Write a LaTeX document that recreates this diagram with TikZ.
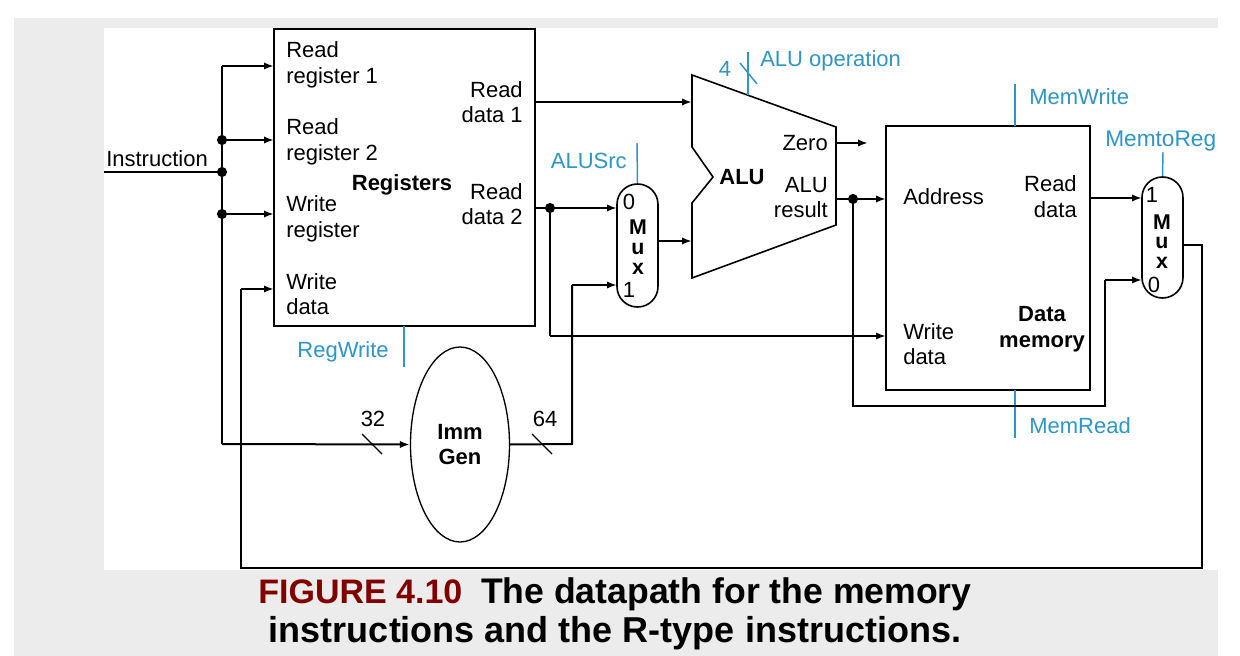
\documentclass[tikz,border=0pt]{standalone}
\usepackage{fontspec}
\setmainfont{Liberation Sans}
\usetikzlibrary{arrows.meta,shapes.geometric}
\definecolor{ctl}{RGB}{45,150,200}
\definecolor{capred}{RGB}{128,0,0}
\definecolor{bggray}{RGB}{236,236,236}
\begin{document}
\begin{tikzpicture}[x=0.75pt,y=-0.75pt,
  wire/.style={line width=1.5pt},
  arr/.style={wire,-{Latex[length=7.5pt,width=5.5pt]}},
  ctlw/.style={draw=ctl,line width=1.1pt},
  lbl/.style={inner sep=0pt,font=\fontsize{16.5}{19}\selectfont},
  blbl/.style={inner sep=0pt,font=\fontsize{16.5}{19}\selectfont\bfseries},
  ctllbl/.style={lbl,text=ctl},
  blk/.style={draw,line width=1.2pt,inner sep=0pt},
  muxbox/.style={blk,rectangle,rounded corners=15.3pt,minimum width=30.75pt},
]
\useasboundingbox (0,0) rectangle (1240,656);
\fill[white] (0,0) rectangle (1240,656);
\fill[bggray] (14,18) rectangle (1218,656);
\fill[white] (104,28) rectangle (1218,570);

% ---- blocks
\node[blk,minimum width=195.75pt,minimum height=222.75pt] (regs) at (404.5,177.5) {};
\node[blk,minimum width=153pt,minimum height=198pt] (mem) at (988,258) {};
\node[muxbox,minimum height=92.25pt] (mux1) at (637.5,245.5) {};
\node[muxbox,minimum height=90.75pt] (mux2) at (1162.5,237.5) {};
\node[blk,ellipse,line width=1pt,minimum width=74.25pt,minimum height=146.25pt] (imm) at (460,444.5) {};
\draw[blk] (692,75) -- (836,127) -- (836,225) -- (692,278) -- (692,203) -- (713,177) -- (692,147) -- cycle;
\coordinate (alu) at (764,177);

% ---- register file labels
\node[lbl,anchor=west,align=left] (rr1) at (286,64.8) {Read\\register 1};
\node[lbl,anchor=west,align=left] (rr2) at (286,141.8) {Read\\register 2};
\node[lbl,anchor=west,align=left] (wreg) at (286,218.8) {Write\\register};
\node[lbl,anchor=west,align=left] (wdat) at (286,294) {Write\\data};
\node[lbl,anchor=east,align=right] (rdd1) at (523,102) {Read\\data 1};
\node[lbl,anchor=east,align=right] (rdd2) at (523,204) {Read\\data 2};
\node[blbl,anchor=base] (regname) at (402,191) {Registers};

% ---- memory labels
\node[lbl,anchor=base west] (addr) at (903,205) {Address};
\node[lbl,anchor=east,align=right] (mrd) at (1077,196.5) {Read\\data};
\node[lbl,anchor=west,align=left] (mwd) at (903,344) {Write\\data};
\node[blbl,align=center] (dmem) at (1042,329.3) {Data\\memory};

% ---- ALU labels
\node[blbl,anchor=base] (aluname) at (742,185) {ALU};
\node[lbl,anchor=base east] (zero) at (828,151) {Zero};
\node[lbl,anchor=east,align=right] (alures) at (828,197.5) {ALU\\result};

% ---- mux labels
\node[lbl] (m1a) at (629,202) {0};
\node[inner sep=0pt,align=center,font=\fontsize{16}{15.2}\selectfont\bfseries] (m1lbl) at (638,247) {M\\u\\x};
\node[lbl] (m1b) at (629,290) {1};
\node[lbl] (m2a) at (1152,195) {1};
\node[inner sep=0pt,align=center,font=\fontsize{16}{14.4}\selectfont\bfseries] (m2lbl) at (1162,241.5) {M\\u\\x};
\node[lbl] (m2b) at (1154,285) {0};

% ---- Imm Gen
\node[blbl,align=center] (immtxt) at (460,444.5) {Imm\\Gen};

% ---- other labels
\node[lbl,anchor=base west] (instr) at (106,167) {Instruction};
\node[lbl,anchor=base] (n32) at (373,426) {32};
\node[lbl,anchor=base] (n64) at (545,426) {64};
\node[ctllbl,anchor=base east] (regwrite) at (389,357) {RegWrite};
\node[ctllbl,anchor=base east] (alusrc) at (627,169) {ALUSrc};
\node[ctllbl,anchor=base] (n4) at (725,77) {4};
\node[ctllbl,anchor=base west] (aluop) at (760,67) {ALU operation};
\node[ctllbl,anchor=base west] (memwrite) at (1029,105) {MemWrite};
\node[ctllbl,anchor=base west,font=\fontsize{17}{19}\selectfont] (memtoreg) at (1105,147) {MemtoReg};
\node[ctllbl,anchor=base west] (memread) at (1029,433) {MemRead};

% ---- coordinates
\coordinate (iin) at (104,172);
\coordinate (bi) at (222,172);
\coordinate (btop) at (222,66);
\coordinate (b2) at (222,140);
\coordinate (b3) at (222,214);
\coordinate (bbot) at (222,444);
\coordinate (rd2j) at (550,208);
\coordinate (rd2d) at (550,336);
\coordinate (immo) at (572,444);
\coordinate (immu) at (572,285);
\coordinate (arj) at (853,199);
\coordinate (ard) at (853,406);
\coordinate (arr) at (1105,406);
\coordinate (aru) at (1105,280);
\coordinate (m2o) at (1202,245);
\coordinate (fbr) at (1202,568);
\coordinate (fbl) at (241,568);
\coordinate (fbu) at (241,289);

% ---- control lines
\draw[ctlw] (748,52) -- (748,95);
\draw[ctlw] (740,63) -- (757,84);
\draw[ctlw] (637,143) -- (mux1.north);
\draw[ctlw] (1015,84) -- (1015,126);
\draw[ctlw] (1015,390) -- (1015,438);
\draw[ctlw] (1163,152) -- (mux2.north);
\draw[ctlw] (404,326) -- (404,367);

% ---- wires
\draw[wire] (iin) -- (bi);
\draw[wire] (btop) -- (bbot);
\draw[arr] (btop) -- (274,66);
\draw[arr] (b2) -- (274,140);
\draw[arr] (b3) -- (274,214);
\draw[arr] (bbot) -- (imm.west);
\draw[arr] (535,102) -- (692,102);
\draw[arr] (535,208) -- (617,208);
\draw[wire] (rd2j) -- (rd2d);
\draw[arr] (rd2d) -- (886,336);
\draw[wire] (imm.east) -- (immo) -- (immu);
\draw[arr] (immu) -- (617,285);
\draw[arr] (658,241) -- (692,241);
\draw[arr] (836,143) -- (868,143);
\draw[arr] (836,199) -- (886,199);
\draw[wire] (arj) -- (ard) -- (arr) -- (aru);
\draw[arr] (aru) -- (1142,280);
\draw[arr] (1090,198) -- (1142,198);
\draw[wire] (1183,245) -- (m2o) -- (fbr) -- (fbl) -- (fbu);
\draw[arr] (fbu) -- (274,289);

% ---- junction dots
\foreach \p in {bi,b2,b3,rd2j,arj} \fill (\p) circle[radius=3.8pt];

% ---- bus width slashes
\draw[line width=1pt] (362,434) -- (382,454);
\draw[line width=1pt] (532,434) -- (552,454);

% ---- caption
\node[inner sep=0pt,anchor=base] (cap1) at (615,603)
  {{\color{capred}\fontsize{25.5}{30}\selectfont\bfseries FIGURE 4.10}\hspace{14pt}{\fontsize{26.7}{30}\selectfont\bfseries The datapath for the memory}};
\node[inner sep=0pt,anchor=base,font=\fontsize{27}{30}\selectfont\bfseries] (cap2) at (615,642)
  {instructions and the R-type instructions.};
\end{tikzpicture}
\end{document}
